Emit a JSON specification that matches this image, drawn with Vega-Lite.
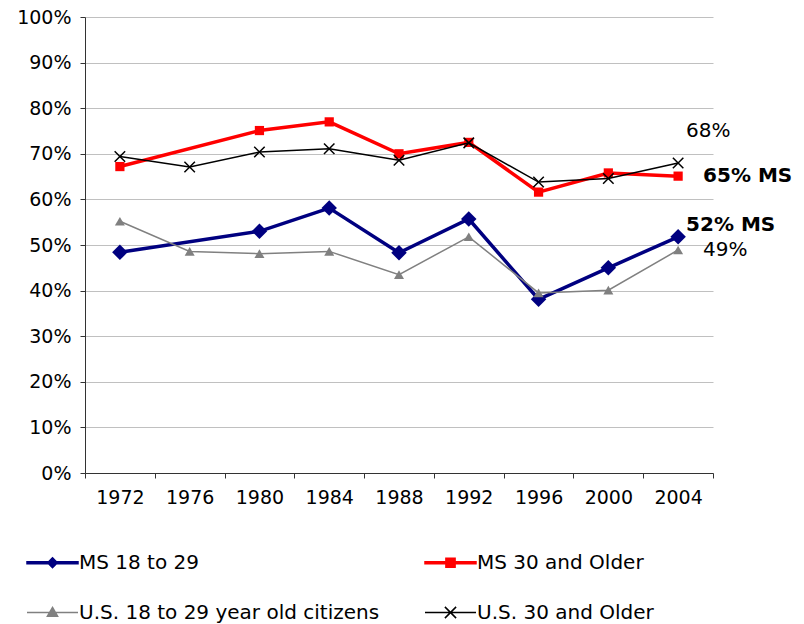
{
  "$schema": "https://vega.github.io/schema/vega-lite/v6.json",
  "width": 628,
  "height": 456,
  "autosize": {"type": "none"},
  "padding": {"left": 85, "top": 17, "right": 91, "bottom": 151},
  "background": "white",
  "config": {
    "view": {"stroke": null},
    "font": "DejaVu Sans"
  },
  "data": {
    "values": [
      {"year": 1972, "series": "MS 18 to 29", "pct": 48.4},
      {"year": 1980, "series": "MS 18 to 29", "pct": 53.0},
      {"year": 1984, "series": "MS 18 to 29", "pct": 58.1},
      {"year": 1988, "series": "MS 18 to 29", "pct": 48.3},
      {"year": 1992, "series": "MS 18 to 29", "pct": 55.7},
      {"year": 1996, "series": "MS 18 to 29", "pct": 38.1},
      {"year": 2000, "series": "MS 18 to 29", "pct": 45.0},
      {"year": 2004, "series": "MS 18 to 29", "pct": 51.8},
      {"year": 1972, "series": "MS 30 and Older", "pct": 67.2},
      {"year": 1980, "series": "MS 30 and Older", "pct": 75.1},
      {"year": 1984, "series": "MS 30 and Older", "pct": 77.0},
      {"year": 1988, "series": "MS 30 and Older", "pct": 70.0},
      {"year": 1992, "series": "MS 30 and Older", "pct": 72.5},
      {"year": 1996, "series": "MS 30 and Older", "pct": 61.6},
      {"year": 2000, "series": "MS 30 and Older", "pct": 65.8},
      {"year": 2004, "series": "MS 30 and Older", "pct": 65.1},
      {"year": 1972, "series": "U.S. 18 to 29 year old citizens", "pct": 55.2},
      {"year": 1976, "series": "U.S. 18 to 29 year old citizens", "pct": 48.6},
      {"year": 1980, "series": "U.S. 18 to 29 year old citizens", "pct": 48.1},
      {"year": 1984, "series": "U.S. 18 to 29 year old citizens", "pct": 48.6},
      {"year": 1988, "series": "U.S. 18 to 29 year old citizens", "pct": 43.5},
      {"year": 1992, "series": "U.S. 18 to 29 year old citizens", "pct": 51.8},
      {"year": 1996, "series": "U.S. 18 to 29 year old citizens", "pct": 39.5},
      {"year": 2000, "series": "U.S. 18 to 29 year old citizens", "pct": 40.1},
      {"year": 2004, "series": "U.S. 18 to 29 year old citizens", "pct": 48.9},
      {"year": 1972, "series": "U.S. 30 and Older", "pct": 69.4},
      {"year": 1976, "series": "U.S. 30 and Older", "pct": 67.1},
      {"year": 1980, "series": "U.S. 30 and Older", "pct": 70.4},
      {"year": 1984, "series": "U.S. 30 and Older", "pct": 71.1},
      {"year": 1988, "series": "U.S. 30 and Older", "pct": 68.6},
      {"year": 1992, "series": "U.S. 30 and Older", "pct": 72.4},
      {"year": 1996, "series": "U.S. 30 and Older", "pct": 63.8},
      {"year": 2000, "series": "U.S. 30 and Older", "pct": 64.6},
      {"year": 2004, "series": "U.S. 30 and Older", "pct": 68.0}
    ]
  },
  "encoding": {
    "x": {
      "field": "year",
      "type": "ordinal",
      "scale": {"type": "band", "paddingInner": 0, "paddingOuter": 0},
      "axis": {
        "title": null,
        "labelAngle": 0,
        "labelFont": "DejaVu Sans",
        "labelFontSize": 19,
        "labelColor": "#000000",
        "labelPadding": 10,
        "tickBand": "extent",
        "tickSize": 5,
        "tickColor": "#333333",
        "domainColor": "#333333",
        "grid": false
      }
    },
    "y": {
      "field": "pct",
      "type": "quantitative",
      "scale": {"domain": [0, 100], "nice": false, "zero": true},
      "axis": {
        "title": null,
        "values": [0, 10, 20, 30, 40, 50, 60, 70, 80, 90, 100],
        "labelExpr": "datum.value + '%'",
        "labelFont": "DejaVu Sans",
        "labelFontSize": 19,
        "labelColor": "#000000",
        "labelPadding": 9,
        "tickSize": 5,
        "tickColor": "#333333",
        "domainColor": "#333333",
        "gridColor": "#c0c0c0",
        "gridWidth": 1
      }
    }
  },
  "layer": [
    {
      "transform": [{"filter": "datum.series === 'MS 18 to 29'"}],
      "mark": {"type": "line", "strokeWidth": 3.5},
      "encoding": {
        "color": {
          "field": "series",
          "type": "nominal",
          "scale": {
            "domain": ["MS 18 to 29", "U.S. 18 to 29 year old citizens", "MS 30 and Older", "U.S. 30 and Older"],
            "range": ["#000080", "#808080", "#FF0000", "#000000"]
          },
          "legend": {
            "title": null,
            "orient": "none",
            "legendX": -59,
            "legendY": 519,
            "columns": 2,
            "columnPadding": 42,
            "rowPadding": 13,
            "symbolSize": 2601,
            "labelFont": "DejaVu Sans",
            "labelFontSize": 20,
            "labelColor": "#000000",
            "labelOffset": 0,
            "labelLimit": 500,
            "encode": {
              "symbols": {
                "update": {
                  "shape": {"signal": "datum.value === 'MS 18 to 29' ? 'M-1,-0.04H1V0.04H-1ZM0,-0.19L0.19,0L0,0.19L-0.19,0Z' : datum.value === 'MS 30 and Older' ? 'M-1,-0.04H1V0.04H-1ZM-0.18,-0.18H0.18V0.18H-0.18Z' : datum.value === 'U.S. 18 to 29 year old citizens' ? 'M-1,0H1M0,-0.2L0.2,0.15H-0.2Z' : 'M-1,0H1M-0.22,-0.22L0.22,0.22M-0.22,0.22L0.22,-0.22'"},
                  "fill": {"scale": "color", "field": "value"},
                  "stroke": {"scale": "color", "field": "value"},
                  "strokeWidth": {"value": 1.5},
                  "opacity": {"value": 1}
                }
              }
            }
          }
        }
      }
    },
    {
      "transform": [{"filter": "datum.series === 'MS 18 to 29'"}],
      "mark": {"type": "point", "shape": "diamond", "size": 240, "filled": true, "opacity": 1, "color": "#000080"}
    },
    {
      "transform": [{"filter": "datum.series === 'MS 30 and Older'"}],
      "mark": {"type": "line", "strokeWidth": 3.5},
      "encoding": {"color": {"field": "series", "type": "nominal"}}
    },
    {
      "transform": [{"filter": "datum.series === 'MS 30 and Older'"}],
      "mark": {"type": "point", "shape": "square", "size": 85, "filled": true, "opacity": 1, "color": "#FF0000"}
    },
    {
      "transform": [{"filter": "datum.series === 'U.S. 18 to 29 year old citizens'"}],
      "mark": {"type": "line", "strokeWidth": 1.5},
      "encoding": {"color": {"field": "series", "type": "nominal"}}
    },
    {
      "transform": [{"filter": "datum.series === 'U.S. 18 to 29 year old citizens'"}],
      "mark": {"type": "point", "shape": "triangle-up", "size": 100, "filled": true, "opacity": 1, "color": "#808080"}
    },
    {
      "transform": [{"filter": "datum.series === 'U.S. 30 and Older'"}],
      "mark": {"type": "line", "strokeWidth": 1.5},
      "encoding": {"color": {"field": "series", "type": "nominal"}}
    },
    {
      "transform": [{"filter": "datum.series === 'U.S. 30 and Older'"}],
      "mark": {"type": "point", "shape": "M-1,-1L1,1M-1,1L1,-1", "size": 110, "filled": false, "opacity": 1, "color": "#000000", "strokeWidth": 1.5}
    },
    {
      "transform": [{"filter": "datum.series === 'U.S. 30 and Older' && datum.year === 2004"}],
      "mark": {"type": "text", "align": "left", "baseline": "middle", "dx": 8, "dy": -32, "fontSize": 20, "font": "DejaVu Sans", "color": "#000000"},
      "encoding": {"text": {"value": "68%"}}
    },
    {
      "transform": [{"filter": "datum.series === 'MS 30 and Older' && datum.year === 2004"}],
      "mark": {"type": "text", "align": "left", "baseline": "middle", "dx": 25, "dy": 0, "fontSize": 20, "fontWeight": "bold", "font": "DejaVu Sans", "color": "#000000"},
      "encoding": {"text": {"value": "65% MS"}}
    },
    {
      "transform": [{"filter": "datum.series === 'MS 18 to 29' && datum.year === 2004"}],
      "mark": {"type": "text", "align": "left", "baseline": "middle", "dx": 8, "dy": -12, "fontSize": 20, "fontWeight": "bold", "font": "DejaVu Sans", "color": "#000000"},
      "encoding": {"text": {"value": "52% MS"}}
    },
    {
      "transform": [{"filter": "datum.series === 'U.S. 18 to 29 year old citizens' && datum.year === 2004"}],
      "mark": {"type": "text", "align": "left", "baseline": "middle", "dx": 25, "dy": 0, "fontSize": 20, "font": "DejaVu Sans", "color": "#000000"},
      "encoding": {"text": {"value": "49%"}}
    }
  ]
}
